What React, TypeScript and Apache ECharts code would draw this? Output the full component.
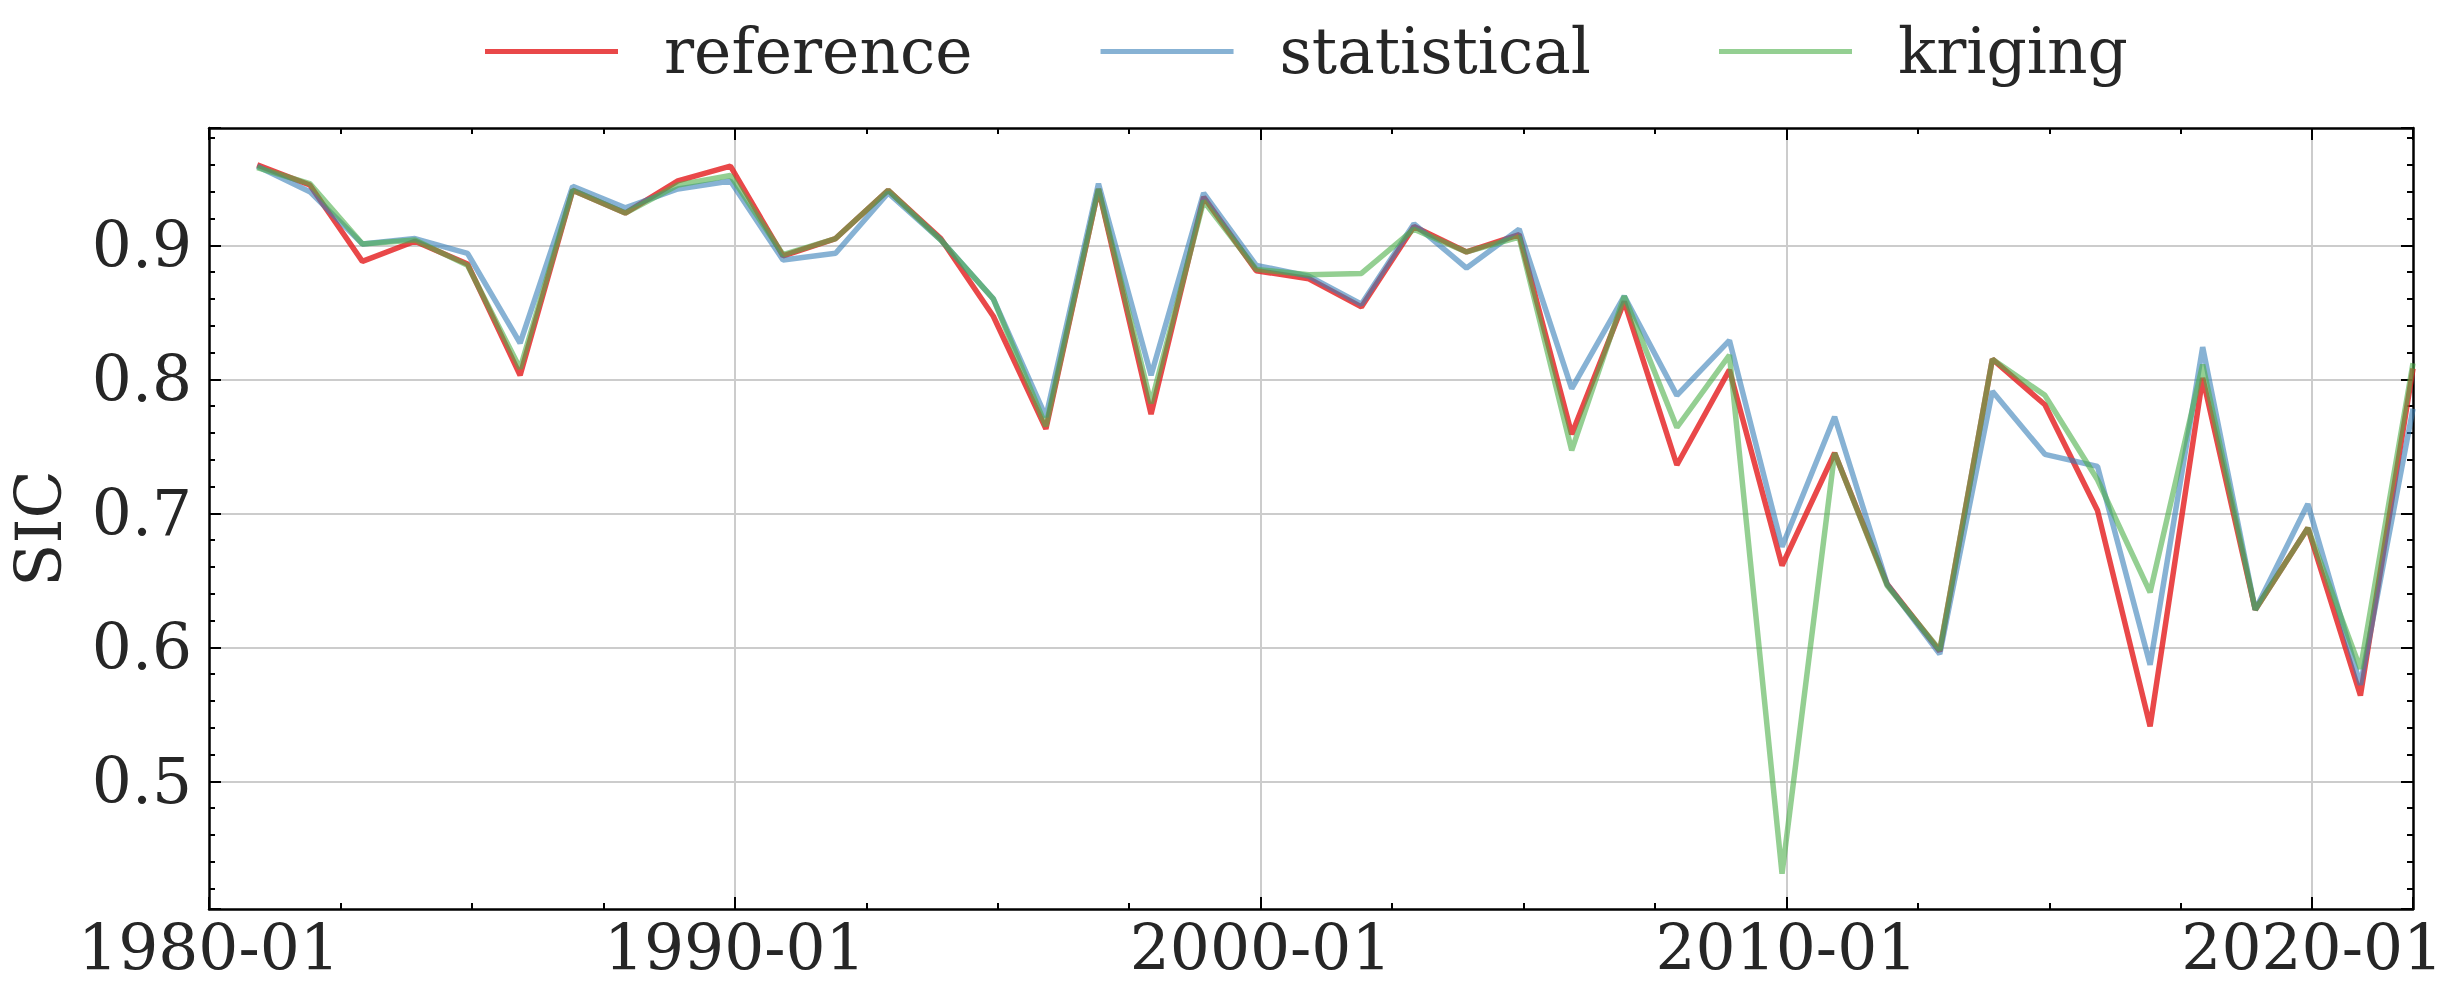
import React, { useEffect, useRef } from "react";
import * as echarts from "echarts";

// Observation dates: December of each year
const YEARS = [
  1980, 1981, 1982, 1983, 1984, 1985, 1986, 1987, 1988, 1989,
  1990, 1991, 1992, 1993, 1994, 1995, 1996, 1997, 1998, 1999,
  2000, 2001, 2002, 2003, 2004, 2005, 2006, 2007, 2008, 2009,
  2010, 2011, 2012, 2013, 2014, 2015, 2016, 2017, 2018, 2019,
  2020, 2021,
];
const MONTH_INDEX = 11; // December

const REFERENCE = [
  0.960, 0.945, 0.888, 0.903, 0.886, 0.803, 0.941, 0.924, 0.948, 0.959,
  0.892, 0.905, 0.941, 0.905, 0.847, 0.763, 0.942, 0.774, 0.936, 0.881,
  0.875, 0.854, 0.914, 0.895, 0.908, 0.759, 0.858, 0.736, 0.807, 0.661,
  0.745, 0.647, 0.597, 0.815, 0.781, 0.702, 0.541, 0.801, 0.628, 0.689,
  0.564, 0.808,
];
const STATISTICAL = [
  0.959, 0.940, 0.901, 0.905, 0.894, 0.827, 0.944, 0.928, 0.942, 0.948,
  0.889, 0.894, 0.939, 0.904, 0.860, 0.772, 0.946, 0.803, 0.939, 0.885,
  0.877, 0.856, 0.916, 0.883, 0.912, 0.793, 0.862, 0.788, 0.829, 0.675,
  0.772, 0.647, 0.595, 0.791, 0.744, 0.735, 0.587, 0.824, 0.628, 0.707,
  0.572, 0.778,
];
const KRIGING = [
  0.958, 0.946, 0.901, 0.904, 0.885, 0.808, 0.941, 0.924, 0.945, 0.952,
  0.893, 0.905, 0.941, 0.904, 0.860, 0.765, 0.942, 0.782, 0.933, 0.882,
  0.878, 0.879, 0.912, 0.895, 0.906, 0.747, 0.862, 0.764, 0.818, 0.431,
  0.745, 0.646, 0.598, 0.815, 0.788, 0.725, 0.641, 0.811, 0.628, 0.689,
  0.584, 0.812,
];

const SERIES_NAMES = ["reference", "statistical", "kriging"];
const X_MIN = 1980; // 1980-01
const Y_MIN = 0.4047;
const Y_MAX = 0.9875;

const FONT = "DejaVu Serif";
const FONT_SIZE = 63;
const TEXT_COLOR = "#262626";
const COLORS = ["rgba(228,26,28,0.8)", "rgba(55,126,184,0.6)", "rgba(77,175,74,0.6)"];

const toX = (year: number) => year + MONTH_INDEX / 12;

export default function App() {
  const ref = useRef<HTMLDivElement>(null);

  useEffect(() => {
    if (!ref.current) return;
    const chart = echarts.init(ref.current, undefined, { renderer: "svg" });
    const xMax = toX(YEARS[YEARS.length - 1]);

    const tickStyle = (len: number) => ({
      show: true,
      inside: true,
      length: len,
      lineStyle: { color: "#000", width: 2 },
    });
    const frameLine = { show: true, lineStyle: { color: "#000", width: 2.5 } };
    const noSplit = { show: false };

    const xBase = { type: "value" as const, min: X_MIN, max: xMax, gridIndex: 0 };
    const yBase = { type: "value" as const, min: Y_MIN, max: Y_MAX, gridIndex: 0 };

    const xLabelFmt = (v: number) =>
      Math.abs(v % 10) < 1e-6 ? `${Math.round(v)}-01` : "";
    const yLabelFmt = (v: number) =>
      Math.abs(v * 10 - Math.round(v * 10)) < 1e-6 ? v.toFixed(1) : "";

    const seriesData = [REFERENCE, STATISTICAL, KRIGING];

    chart.setOption({
      animation: false,
      backgroundColor: "#ffffff",
      textStyle: { fontFamily: FONT, color: TEXT_COLOR },
      legend: {
        show: true,
        left: 480,
        top: 15,
        icon: "rect",
        itemWidth: 133,
        itemHeight: 5,
        itemGap: 128,
        data: SERIES_NAMES,
        textStyle: {
          fontFamily: FONT,
          fontSize: FONT_SIZE,
          color: TEXT_COLOR,
          padding: [0, 0, 0, 41],
        },
      },
      grid: { left: 208, right: 40, top: 128, bottom: 97, containLabel: false },
      xAxis: [
        {
          ...xBase,
          position: "bottom",
          interval: 10,
          axisLine: frameLine,
          axisTick: tickStyle(12),
          axisLabel: {
            show: true,
            formatter: xLabelFmt,
            fontFamily: FONT,
            fontSize: FONT_SIZE,
            color: TEXT_COLOR,
            margin: 8,
            showMinLabel: true,
            showMaxLabel: true,
            hideOverlap: false,
          },
          splitLine: {
            show: true,
            showMinLine: false,
            showMaxLine: false,
            lineStyle: { color: "#cccccc", width: 2 },
          },
        },
        {
          ...xBase,
          position: "bottom",
          interval: 2.5,
          axisLine: { show: false },
          axisTick: tickStyle(6),
          axisLabel: { show: false },
          splitLine: noSplit,
        },
        {
          ...xBase,
          position: "top",
          interval: 10,
          axisLine: frameLine,
          axisTick: tickStyle(12),
          axisLabel: { show: false },
          splitLine: noSplit,
        },
        {
          ...xBase,
          position: "top",
          interval: 2.5,
          axisLine: { show: false },
          axisTick: tickStyle(6),
          axisLabel: { show: false },
          splitLine: noSplit,
        },
      ],
      yAxis: [
        {
          ...yBase,
          position: "left",
          minInterval: 0.1,
          maxInterval: 0.1,
          name: "SIC",
          nameLocation: "middle",
          nameGap: 138,
          nameTextStyle: {
            fontFamily: FONT,
            fontSize: FONT_SIZE,
            color: TEXT_COLOR,
            padding: [0, 20, 0, 0],
          },
          axisLine: frameLine,
          axisTick: tickStyle(12),
          axisLabel: {
            show: true,
            formatter: yLabelFmt,
            fontFamily: FONT,
            fontSize: FONT_SIZE,
            color: TEXT_COLOR,
            margin: 17,
          },
          splitLine: {
            show: true,
            showMinLine: false,
            showMaxLine: false,
            lineStyle: { color: "#cccccc", width: 2 },
          },
        },
        {
          ...yBase,
          position: "left",
          minInterval: 0.02,
          maxInterval: 0.02,
          axisLine: { show: false },
          axisTick: tickStyle(6),
          axisLabel: { show: false },
          splitLine: noSplit,
        },
        {
          ...yBase,
          position: "right",
          minInterval: 0.1,
          maxInterval: 0.1,
          axisLine: frameLine,
          axisTick: tickStyle(12),
          axisLabel: { show: false },
          splitLine: noSplit,
        },
        {
          ...yBase,
          position: "right",
          minInterval: 0.02,
          maxInterval: 0.02,
          axisLine: { show: false },
          axisTick: tickStyle(6),
          axisLabel: { show: false },
          splitLine: noSplit,
        },
      ],
      series: SERIES_NAMES.map((name, i) => ({
        name,
        type: "line",
        xAxisIndex: 0,
        yAxisIndex: 0,
        symbol: "none",
        showSymbol: false,
        smooth: false,
        color: COLORS[i],
        itemStyle: { color: COLORS[i] },
        lineStyle: { color: COLORS[i], width: 5.5 },
        data: YEARS.map((y, j) => [toX(y), seriesData[i][j]]),
        z: 2 + i,
      })),
    });

    return () => chart.dispose();
  }, []);

  return (
    <div
      ref={ref}
      style={{ position: "fixed", left: 0, top: 0, width: 2453, height: 1006 }}
    />
  );
}
